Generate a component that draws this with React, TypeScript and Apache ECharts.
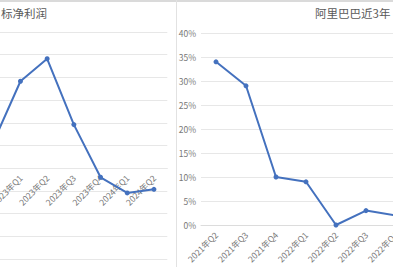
import React, { useEffect, useRef } from "react";
import * as echarts from "echarts";

const leftTitle = "标净利润";
const leftCategories = ["2022年Q4", "2023年Q1", "2023年Q2", "2023年Q3", "2023年Q4", "2024年Q1", "2024年Q2"];
const leftValues = [11.8, 38.3, 48.2, 19.2, -4.0, -10.9, -9.3];
const leftHiddenLabels = ["2022年Q4"];

const rightTitle = "阿里巴巴近3年";
const rightCategories = ["2021年Q2", "2021年Q3", "2021年Q4", "2022年Q1", "2022年Q2", "2022年Q3", "2022年Q4"];
const rightValues = [0.34, 0.29, 0.1, 0.09, 0.0, 0.03, 0.02];

const LINE = "#4471BE";
const GRID = "#E7E7E7";
const TEXT = "#595959";
const LABEL = "#787878";
const FONT = "'Noto Sans CJK SC', 'Noto Sans', sans-serif";
const SHIFT = 20;
const CW = 393 + 2 * SHIFT;

export default function App() {
  const ref = useRef<HTMLDivElement>(null);
  useEffect(() => {
    const chart = echarts.init(ref.current!, undefined, { renderer: "svg" });
    chart.setOption({
      animation: false,
      backgroundColor: "#ffffff",
      textStyle: { fontFamily: FONT },
      title: [
        {
          text: leftTitle,
          left: 1 + SHIFT,
          top: 7,
          padding: 0,
          textStyle: { fontSize: 11.5, fontWeight: "normal", color: TEXT, fontFamily: FONT },
        },
        {
          text: rightTitle,
          left: 315 + SHIFT,
          top: 7,
          padding: 0,
          textStyle: { fontSize: 11.5, fontWeight: "normal", color: TEXT, fontFamily: FONT },
        },
      ],
      grid: [
        { left: SHIFT - 19.6, width: 186.9, top: 32, bottom: 8, containLabel: false },
        { left: SHIFT + 201, width: 210, top: 33, bottom: 42, containLabel: false },
      ],
      xAxis: [
        {
          type: "category",
          gridIndex: 0,
          data: leftCategories,
          boundaryGap: true,
          offset: -90.8,
          axisLine: { show: true, onZero: false, lineStyle: { color: GRID } },
          axisTick: { show: false },
          axisLabel: {
            rotate: 45,
            fontSize: 8.5,
            color: LABEL,
            margin: 8,
            interval: 0,
            formatter: (v: string) => (leftHiddenLabels.includes(v) ? "" : v),
          },
        },
        {
          type: "category",
          gridIndex: 1,
          data: rightCategories,
          boundaryGap: true,
          axisLine: { show: true, lineStyle: { color: "#DCDCDC" } },
          axisTick: { show: false },
          axisLabel: { rotate: 45, fontSize: 8.5, color: LABEL, margin: 8, interval: 0 },
        },
      ],
      yAxis: [
        {
          type: "value",
          gridIndex: 0,
          min: -40,
          max: 60,
          interval: 10,
          axisLabel: { show: false },
          axisLine: { show: false },
          axisTick: { show: false },
          splitLine: { lineStyle: { color: GRID } },
        },
        {
          type: "value",
          gridIndex: 1,
          min: 0,
          max: 0.4,
          interval: 0.05,
          axisLabel: {
            fontSize: 8.5,
            color: LABEL,
            margin: 5,
            formatter: (v: number) => Math.round(v * 100) + "%",
          },
          axisLine: { show: false },
          axisTick: { show: false },
          splitLine: { lineStyle: { color: GRID } },
        },
      ],
      series: [
        {
          type: "line",
          xAxisIndex: 0,
          yAxisIndex: 0,
          data: leftValues,
          symbol: "circle",
          symbolSize: 5,
          lineStyle: { color: LINE, width: 2 },
          itemStyle: { color: LINE },
        },
        {
          type: "line",
          xAxisIndex: 1,
          yAxisIndex: 1,
          data: rightValues,
          symbol: "circle",
          symbolSize: 5,
          lineStyle: { color: LINE, width: 2 },
          itemStyle: { color: LINE },
        },
      ],
      graphic: [
        { type: "rect", left: SHIFT, top: 0, shape: { width: 393, height: 2 }, style: { fill: "#DADADA" } },
        { type: "rect", left: SHIFT + 176, top: 0, shape: { width: 1, height: 267 }, style: { fill: "#E2E2E2" } },
      ],
    });
    return () => chart.dispose();
  }, []);
  return (
    <div style={{ position: "absolute", left: 0, top: 0, width: 393, height: 267, overflow: "hidden" }}>
      <div
        ref={ref}
        style={{ position: "absolute", left: -SHIFT, top: 0, width: CW, height: 267 }}
      />
    </div>
  );
}
